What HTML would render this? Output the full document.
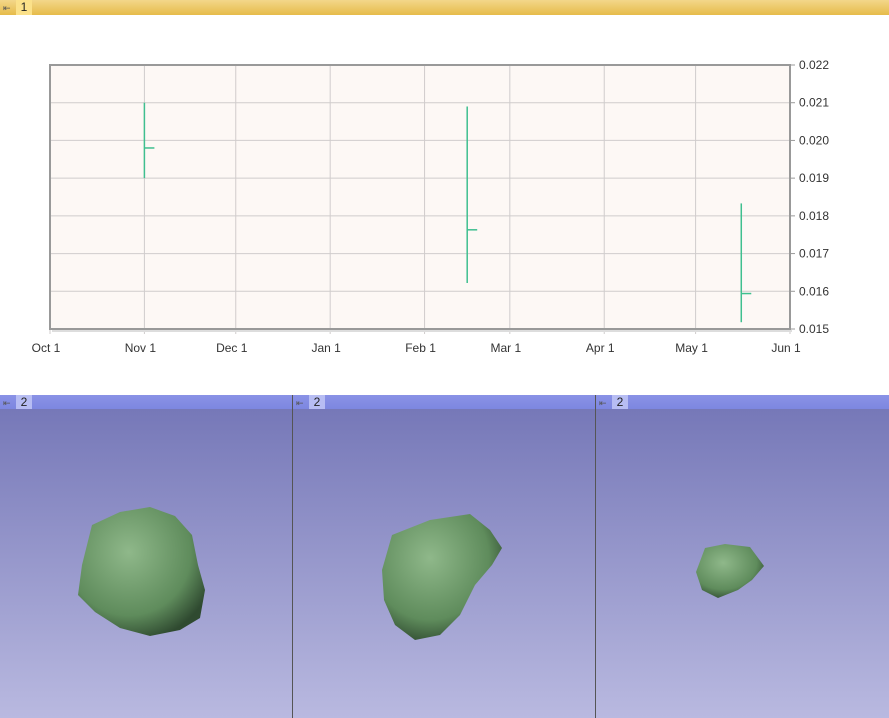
<!DOCTYPE html>
<html><head><meta charset="utf-8"><style>
body{margin:0;width:889px;height:718px;overflow:hidden;background:#fff;font-family:"Liberation Sans",sans-serif;position:relative}
.hdr{position:absolute;height:15px;}
.pin{position:absolute;left:3px;top:3px;font-size:9px;color:#555}
.num{position:absolute;top:0;height:15px;width:16px;text-align:center;font-size:12px;line-height:15px;color:#222}
.panel{position:absolute;top:409px;height:309px;background:linear-gradient(#7678b8,#b9b9e0)}
</style></head><body>
<div class="hdr" style="left:0;top:0;width:889px;background:linear-gradient(#f3d78a,#e6bb4a)">
<span class="pin">⇤</span>
<span class="num" style="left:16px;background:#fbe18a">1</span></div>
<svg id="chart" width="889" height="380" style="position:absolute;left:0;top:15px"></svg>

<div class="hdr" style="left:0;top:395px;width:292px;background:linear-gradient(#8a92e6,#7c86e0)"><span class="pin">⇤</span><span class="num" style="left:16px;background:#b7bdf3">2</span></div>
<div class="hdr" style="left:293px;top:395px;width:302px;background:linear-gradient(#8a92e6,#7c86e0)"><span class="pin">⇤</span><span class="num" style="left:16px;background:#b7bdf3">2</span></div>
<div class="hdr" style="left:596px;top:395px;width:293px;background:linear-gradient(#8a92e6,#7c86e0)"><span class="pin">⇤</span><span class="num" style="left:16px;background:#b7bdf3">2</span></div>
<div class="panel" style="left:0;width:292px"></div>
<div class="panel" style="left:293px;width:302px"></div>
<div class="panel" style="left:596px;width:293px"></div>
<div style="position:absolute;left:292px;top:395px;width:1px;height:323px;background:#555"></div>
<div style="position:absolute;left:595px;top:395px;width:1px;height:323px;background:#555"></div>
<svg width="889" height="718" style="position:absolute;left:0;top:0;pointer-events:none">
<defs><radialGradient id="g" cx="40%" cy="35%" r="70%"><stop offset="0" stop-color="#8fb88a"/><stop offset="0.7" stop-color="#5f8c5c"/><stop offset="1" stop-color="#2f4a30"/></radialGradient></defs>
<path fill="url(#g)" d="M92,525 L120,512 L150,507 L175,516 L192,535 L198,565 L205,590 L200,618 L180,630 L150,636 L120,628 L95,612 L78,595 L82,565 Z"/>
<path fill="url(#g)" d="M392,535 L430,520 L470,514 L490,530 L502,548 L492,565 L475,585 L460,615 L440,635 L415,640 L395,625 L384,600 L382,570 Z"/>
<path fill="url(#g)" d="M705,548 L725,544 L750,547 L764,566 L752,580 L738,590 L718,598 L702,590 L696,572 Z"/>
</svg>
<script>
const tickDates=["2014-10-01","2014-11-01","2014-12-01","2015-01-01","2015-02-01","2015-03-01","2015-04-01","2015-05-01","2015-06-01"];
const tickLabels=["Oct 1","Nov 1","Dec 1","Jan 1","Feb 1","Mar 1","Apr 1","May 1","Jun 1"];
const yTicks=[0.015,0.016,0.017,0.018,0.019,0.020,0.021,0.022];
const dates=["2014-11-01","2015-02-15","2015-05-16"];
const highs=[0.0210,0.0209,0.01833];
const lows=[0.0190,0.01622,0.01518];
const closes=[0.0198,0.01763,0.01594];
const svg=document.getElementById('chart');const NS='http://www.w3.org/2000/svg';
const L=50,R=790,T=50,B=314;
const t0=Date.parse(tickDates[0]),t1=Date.parse(tickDates[tickDates.length-1]);
const xs=d=>L+(Date.parse(d)-t0)/(t1-t0)*(R-L);
const ys=v=>B-(v-0.015)/(0.007)*(B-T);
function el(tag,a,p){const e=document.createElementNS(NS,tag);for(const k in a)e.setAttribute(k,a[k]);(p||svg).appendChild(e);return e;}
const bg=el('rect',{x:L,y:T,width:R-L,height:B-T,fill:'#fdf8f5'});


yTicks.forEach(v=>{const y=ys(v);
const g=el('line',{x1:L,x2:R,y1:y,y2:y,stroke:'#d0cccc'});


el('line',{x1:R,x2:R+5,y1:y,y2:y,stroke:'#999'});
const t=el('text',{x:R+9,y:y+4,'font-size':12,fill:'#333'});t.textContent=v.toFixed(3);

});
tickDates.forEach((d,i)=>{const x=xs(d);
const g=el('line',{x1:x,x2:x,y1:T,y2:B+5,stroke:'#d0cccc'});


const t=el('text',{x:x-4,y:B+23,'font-size':12,fill:'#333','text-anchor':'middle'});t.textContent=tickLabels[i];

});
el('path',{d:`M${L},${T}H${R}V${B}H${L}Z`,fill:'none',stroke:'#999','stroke-width':2});
el('line',{x1:L+2,x2:R+2,y1:B+2,y2:B+2,stroke:'#ddd','stroke-width':2});
dates.forEach((d,i)=>{const x=xs(d);
const g=el('g',{stroke:'#3fbf8f','stroke-width':1.5});


el('line',{x1:x,x2:x,y1:ys(highs[i]),y2:ys(lows[i])},g);
el('line',{x1:x,x2:x+10,y1:ys(closes[i]),y2:ys(closes[i])},g);});
</script>
</body></html>
